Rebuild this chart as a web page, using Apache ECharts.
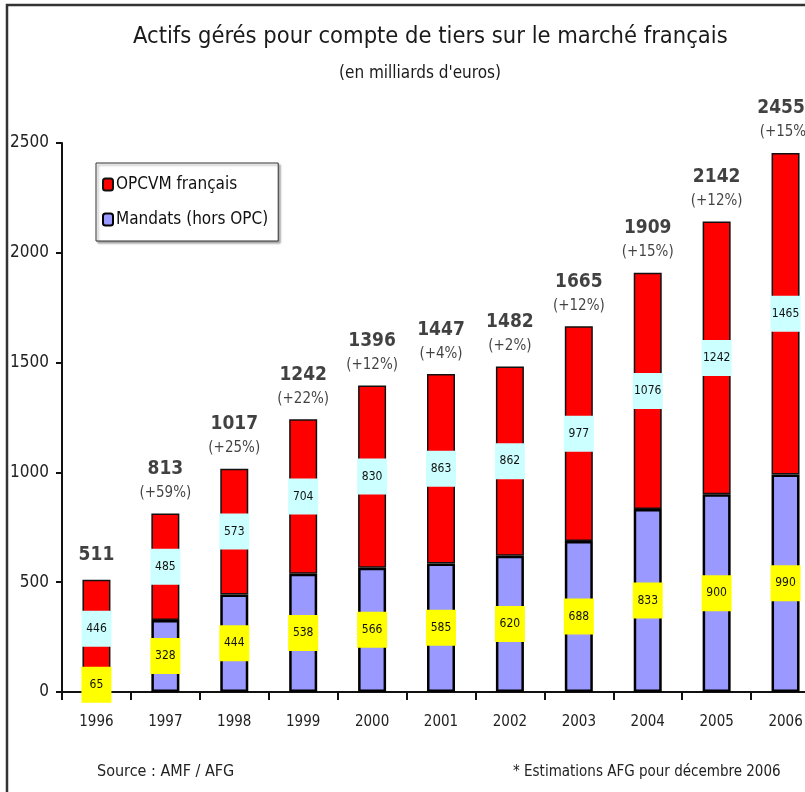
<!DOCTYPE html>
<html><head><meta charset="utf-8">
<script src="https://cdn.jsdelivr.net/npm/echarts@6/dist/echarts.min.js"></script>
<style>html,body{margin:0;padding:0;background:#fff}#c{width:805px;height:792px}</style>
</head><body><div id="c"></div>
<script>
const years = ['1996','1997','1998','1999','2000','2001','2002','2003','2004','2005','2006'];
const mandats = [65,328,444,538,566,585,620,688,833,900,990];
const opcvm = [446,485,573,704,830,863,862,977,1076,1242,1465];
const totals = [511,813,1017,1242,1396,1447,1482,1665,1909,2142,2455];
const totalLabels = ['511','813','1017','1242','1396','1447','1482','1665','1909','2142','2455*'];
const growth = ['','(+59%)','(+25%)','(+22%)','(+12%)','(+4%)','(+2%)','(+12%)','(+15%)','(+12%)','(+15%)'];
const yMin = 0, yMax = 2500, yStep = 500;

const NARROW = '"Liberation Sans Narrow","Arial Narrow","DejaVu Sans Condensed",sans-serif';
const chart = echarts.init(document.getElementById('c'), null, {renderer:'canvas'});
const boxLabel = (bg) => ({
  show: true, position: 'inside', fontFamily: NARROW, fontSize: 12, color: '#111',
  backgroundColor: bg, padding: [10, 2], width: 26, align: 'center', lineHeight: 16
});
chart.setOption({
  animation: false,
  title: [
    {text: 'Actifs gérés pour compte de tiers sur le marché français', left: 128, top: 20,
     textStyle: {fontFamily: NARROW, fontSize: 23.5, fontWeight: 'normal', color: '#1a1a1a'}},
    {text: "(en milliards d'euros)", left: 334, top: 60,
     textStyle: {fontFamily: NARROW, fontSize: 17, fontWeight: 'normal', color: '#1a1a1a'}}
  ],
  legend: {
    data: ['OPCVM français', 'Mandats (hors OPC)'], orient: 'vertical', left: 96, top: 163,
    padding: [13, 10, 13, 6], itemGap: 18, itemWidth: 10, itemHeight: 12,
    borderColor: '#333', borderWidth: 1, backgroundColor: '#fff',
    shadowColor: 'rgba(0,0,0,0.35)', shadowOffsetX: 2, shadowOffsetY: 2, shadowBlur: 2,
    textStyle: {fontFamily: NARROW, fontSize: 17, color: '#111', padding: [0, 0, 0, -2]}
  },
  grid: {left: 62, width: 758, top: 143, bottom: 100, containLabel: false, outerBoundsMode: 'none'},
  xAxis: {
    type: 'category', data: years,
    axisLine: {lineStyle: {color: '#111', width: 2}},
    axisTick: {show: true, length: 8, lineStyle: {color: '#111', width: 2}},
    axisLabel: {fontFamily: NARROW, fontSize: 15, color: '#222', margin: 23}
  },
  yAxis: {
    type: 'value', min: yMin, max: yMax, interval: yStep,
    splitLine: {show: false},
    axisLine: {show: true, lineStyle: {color: '#111', width: 2}},
    axisTick: {show: true, length: 6, lineStyle: {color: '#111', width: 2}},
    axisLabel: {fontFamily: NARROW, fontSize: 17, color: '#222', margin: 13, formatter: v => String(v)}
  },
  series: [
    {name: 'Mandats (hors OPC)', type: 'bar', stack: 't', data: mandats, barWidth: 28,
     itemStyle: {color: '#9999ff', borderColor: '#000', borderWidth: 2.5},
     label: boxLabel('#ffff00')},
    {name: 'OPCVM français', type: 'bar', stack: 't', data: opcvm, barWidth: 28,
     itemStyle: {color: '#ff0000', borderColor: '#111', borderWidth: 1.5},
     label: boxLabel('#ccffff')},
    {name: 'totaux', type: 'scatter', data: totals, symbolSize: 1, itemStyle: {color: 'rgba(0,0,0,0)'},
     silent: true, z: 5,
     label: {show: true, position: 'top', distance: 10, color: '#000',
       formatter: p => growth[p.dataIndex] ? '{v|' + totalLabels[p.dataIndex] + '}\n{p|' + growth[p.dataIndex] + '}' : '{v|' + totalLabels[p.dataIndex] + '}',
       rich: {
         v: {fontFamily: NARROW, fontSize: 19, fontWeight: 'bold', color: '#111', lineHeight: 28, align: 'center'},
         p: {fontFamily: NARROW, fontSize: 15, color: '#111', lineHeight: 20, align: 'center'}
       }}}
  ],
  graphic: [
    {type: 'rect', shape: {x: 7, y: 5, width: 900, height: 900}, style: {fill: 'none', stroke: '#333', lineWidth: 2.5}, silent: true},
    {type: 'text', left: 97, top: 764, style: {text: 'Source : AMF / AFG', font: '16px ' + NARROW, fill: '#222'}},
    {type: 'text', left: 513, top: 765, style: {text: '* Estimations AFG pour décembre 2006', font: '15px ' + NARROW, fill: '#222'}}
  ]
});
</script></body></html>
